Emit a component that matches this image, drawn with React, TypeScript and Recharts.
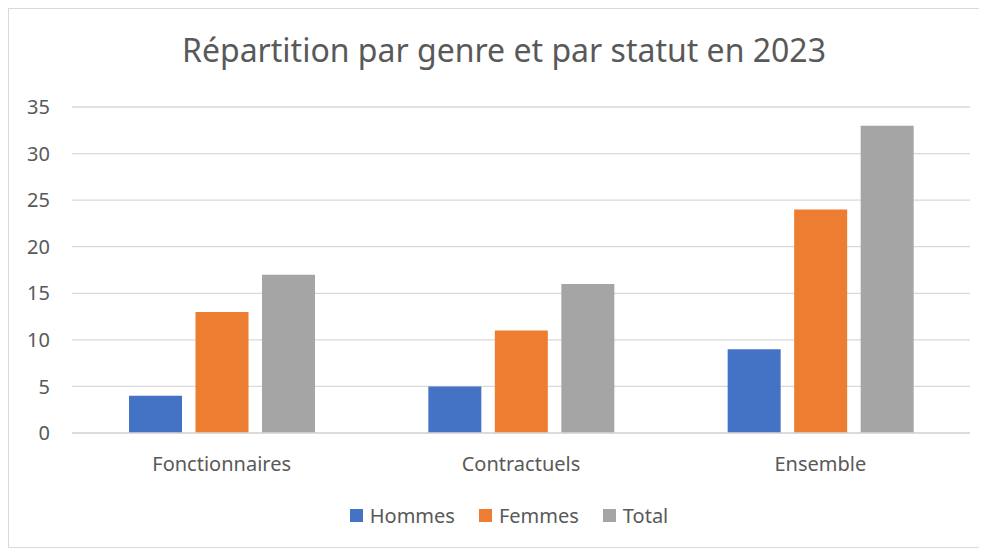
import React from "react";
import { Bar, BarChart, CartesianGrid, XAxis, YAxis } from "recharts";

const categories = ["Fonctionnaires", "Contractuels", "Ensemble"];
const hommes = [4, 5, 9];
const femmes = [13, 11, 24];
const total = [17, 16, 33];
const yTicks = [0, 5, 10, 15, 20, 25, 30, 35];

const seriesMeta = [
  { key: "hommes", label: "Hommes", color: "#4472C4" },
  { key: "femmes", label: "Femmes", color: "#ED7D31" },
  { key: "total", label: "Total", color: "#A5A5A5" },
];

const data = categories.map((name, i) => ({
  name,
  hommes: hommes[i],
  femmes: femmes[i],
  total: total[i],
}));

const FONT = "'Noto Sans', 'Open Sans', sans-serif";
const TEXT = "#595959";

// legend drawn as plain html under the plot, like the excel one
const ChartLegend = () => (
  <div
    style={{
      position: "absolute",
      left: 0,
      top: 493,
      width: 1000,
      display: "flex",
      justifyContent: "center",
      alignItems: "center",
      gap: 24,
      fontFamily: FONT,
      fontSize: 20,
      color: TEXT,
    }}
  >
    {seriesMeta.map((s) => (
      <div key={s.key} style={{ display: "flex", alignItems: "center" }}>
        <span
          style={{
            width: 13,
            height: 13,
            background: s.color,
            display: "inline-block",
            marginRight: 7,
          }}
        />
        <span>{s.label}</span>
      </div>
    ))}
  </div>
);

export default function App() {
  return (
    <div
      style={{
        position: "relative",
        margin: -1,
        width: 974,
        height: 542,
        border: "2px solid #d9d9d9",
        boxSizing: "border-box",
        background: "#fff",
      }}
    >
      <div
        style={{
          position: "absolute",
          left: 0,
          top: 19,
          width: 990,
          textAlign: "center",
          fontFamily: FONT,
          fontSize: 32,
          color: TEXT,
          whiteSpace: "nowrap",
        }}
      >
        Répartition par genre et par statut en 2023
      </div>
      <BarChart
        width={970}
        height={538}
        data={data}
        margin={{ top: 98, right: 9, left: 0, bottom: 84 }}
        barSize={53}
        barGap={13.5}
      >
        <CartesianGrid vertical={false} stroke="#d9d9d9" strokeWidth={1.3} />
        <XAxis
          dataKey="name"
          height={30}
          axisLine={{ stroke: "#d9d9d9", strokeWidth: 1.3 }}
          tickLine={false}
          tickMargin={18}
          tick={{ fontFamily: FONT, fontSize: 20, fill: TEXT }}
        />
        <YAxis
          width={63}
          domain={[0, 35]}
          ticks={yTicks}
          axisLine={false}
          tickLine={false}
          tickMargin={16}
          tick={{ fontFamily: FONT, fontSize: 20, fill: TEXT }}
        />
        {seriesMeta.map((s) => (
          <Bar
            key={s.key}
            dataKey={s.key}
            name={s.label}
            fill={s.color}
            isAnimationActive={false}
          />
        ))}
      </BarChart>
      <ChartLegend />
    </div>
  );
}
